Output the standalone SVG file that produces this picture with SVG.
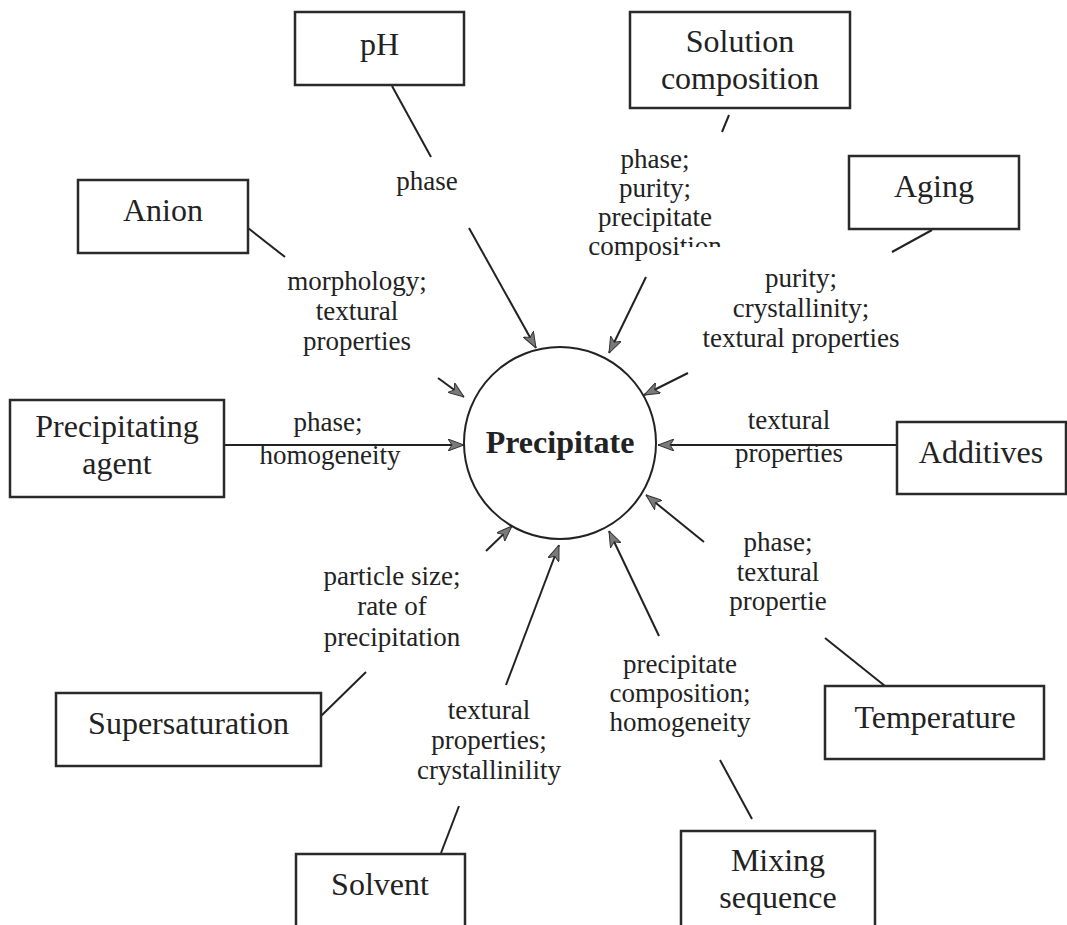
<svg xmlns="http://www.w3.org/2000/svg" width="1067" height="925" viewBox="0 0 1067 925">
<style>
.box{fill:#fff;stroke:#2a2a2a;stroke-width:2.5}
.nt{font-family:"Liberation Serif","Times New Roman",serif;font-size:32px;fill:#222;text-anchor:middle}
.lb{font-family:"Liberation Serif","Times New Roman",serif;font-size:27px;fill:#222;text-anchor:middle}
.ln{stroke:#222;stroke-width:2;fill:none}
.ar{stroke:#222;stroke-width:2;fill:none;marker-end:url(#ah)}
</style>
<defs>
<marker id="ah" viewBox="0 0 16 12" refX="16" refY="6" markerWidth="16" markerHeight="12" markerUnits="userSpaceOnUse" orient="auto">
<path d="M0,0 L16,6 L0,12 L4,6 Z" fill="#7a7a7a" stroke="#333" stroke-width="1"/>
</marker>
<clipPath id="cp">
<rect x="560" y="225" width="121" height="45"/>
<rect x="681" y="225" width="70" height="22"/>
</clipPath>
</defs>
<rect width="1067" height="925" fill="#fff"/>

<g id="connectors">
<line class="ln" x1="392" y1="86" x2="431" y2="157"/>
<line class="ar" x1="469" y1="228" x2="536" y2="348"/>
<line class="ln" x1="248" y1="228" x2="285" y2="257"/>
<line class="ar" x1="438" y1="378" x2="464" y2="397"/>
<line class="ln" x1="729" y1="115" x2="722" y2="132"/>
<line class="ar" x1="646" y1="277" x2="609" y2="353"/>
<line class="ln" x1="932" y1="230" x2="892" y2="252"/>
<line class="ar" x1="688" y1="373" x2="644" y2="395"/>
<line class="ar" x1="224" y1="445" x2="464" y2="445"/>
<line class="ar" x1="897" y1="445" x2="658" y2="445"/>
<line class="ln" x1="321" y1="716" x2="366" y2="672"/>
<line class="ar" x1="486" y1="551" x2="512" y2="526"/>
<line class="ln" x1="441" y1="853" x2="459" y2="806"/>
<line class="ar" x1="506" y1="685" x2="559" y2="545"/>
<line class="ln" x1="752" y1="819" x2="720" y2="760"/>
<line class="ar" x1="659" y1="636" x2="609" y2="531"/>
<line class="ln" x1="885" y1="686" x2="825" y2="638"/>
<line class="ar" x1="704" y1="542" x2="646" y2="495"/>
</g>

<g id="labels">
<text class="lb" x="427" y="190">phase</text>
<text class="lb" x="357" y="290">morphology;</text>
<text class="lb" x="357" y="320">textural</text>
<text class="lb" x="357" y="350">properties</text>
<text class="lb" x="655" y="168">phase;</text>
<text class="lb" x="655" y="197">purity;</text>
<text class="lb" x="655" y="226">precipitate</text>
<text class="lb" x="655" y="255" clip-path="url(#cp)">composition</text>
<text class="lb" x="801" y="287">purity;</text>
<text class="lb" x="801" y="317">crystallinity;</text>
<text class="lb" x="801" y="347">textural properties</text>
<text class="lb" x="328" y="431">phase;</text>
<text class="lb" x="330" y="464">homogeneity</text>
<text class="lb" x="789" y="429">textural</text>
<text class="lb" x="789" y="462">properties</text>
<text class="lb" x="392" y="585">particle size;</text>
<text class="lb" x="392" y="615">rate of</text>
<text class="lb" x="392" y="646">precipitation</text>
<text class="lb" x="778" y="551">phase;</text>
<text class="lb" x="778" y="581">textural</text>
<text class="lb" x="778" y="610">propertie</text>
<text class="lb" x="489" y="719">textural</text>
<text class="lb" x="489" y="749">properties;</text>
<text class="lb" x="489" y="779">crystallinility</text>
<text class="lb" x="680" y="673">precipitate</text>
<text class="lb" x="680" y="702">composition;</text>
<text class="lb" x="680" y="731">homogeneity</text>
</g>

<g id="precipitate">
<circle cx="560" cy="443" r="96" fill="none" stroke="#222" stroke-width="2"/>
<text class="nt" x="560" y="453" font-weight="bold">Precipitate</text>
</g>

<g id="ph">
<rect class="box" x="295" y="12" width="169" height="73"/>
<text class="nt" x="379.5" y="55">pH</text>
</g>

<g id="solution-composition">
<rect class="box" x="630" y="12" width="220" height="96"/>
<text class="nt" x="740" y="52">Solution</text>
<text class="nt" x="740" y="89">composition</text>
</g>

<g id="aging">
<rect class="box" x="849" y="156" width="170" height="73"/>
<text class="nt" x="934" y="197">Aging</text>
</g>

<g id="anion">
<rect class="box" x="78" y="180" width="170" height="73"/>
<text class="nt" x="163" y="221">Anion</text>
</g>

<g id="precipitating-agent">
<rect class="box" x="10" y="400" width="214" height="97"/>
<text class="nt" x="117" y="437">Precipitating</text>
<text class="nt" x="117" y="474">agent</text>
</g>

<g id="additives">
<rect class="box" x="897" y="422" width="169" height="72"/>
<text class="nt" x="981" y="463">Additives</text>
</g>

<g id="supersaturation">
<rect class="box" x="56" y="693" width="265" height="73"/>
<text class="nt" x="188.5" y="734">Supersaturation</text>
</g>

<g id="temperature">
<rect class="box" x="825" y="686" width="219" height="73"/>
<text class="nt" x="935" y="728">Temperature</text>
</g>

<g id="solvent">
<rect class="box" x="296" y="854" width="169" height="90"/>
<text class="nt" x="380" y="895">Solvent</text>
</g>

<g id="mixing-sequence">
<rect class="box" x="681" y="831" width="194" height="110"/>
<text class="nt" x="778" y="871">Mixing</text>
<text class="nt" x="778" y="908">sequence</text>
</g>
</svg>
